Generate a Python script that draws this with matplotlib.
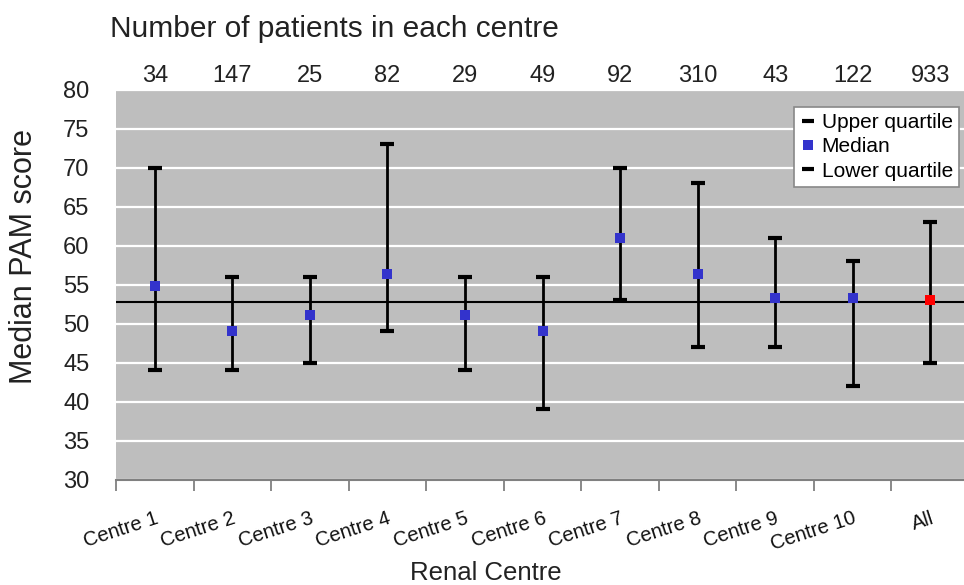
import matplotlib
matplotlib.use("Agg")
import matplotlib.pyplot as plt
from matplotlib.lines import Line2D
import numpy as np

plt.rcParams['font.family'] = ['Liberation Sans', 'DejaVu Sans']

categories = ['Centre 1', 'Centre 2', 'Centre 3', 'Centre 4', 'Centre 5', 'Centre 6',
              'Centre 7', 'Centre 8', 'Centre 9', 'Centre 10', 'All']
patients = [34, 147, 25, 82, 29, 49, 92, 310, 43, 122, 933]
upper_q = [70, 56, 56, 73, 56, 56, 70, 68, 61, 58, 63]
median = [54.8, 49.1, 51.1, 56.3, 51.1, 49.1, 60.9, 56.3, 53.3, 53.3, 53.0]
lower_q = [44, 44, 45, 49, 44, 39, 53, 47, 47, 42, 45]
overall_line = 52.7

W, H = 964, 585
fig = plt.figure(figsize=(W / 100, H / 100), dpi=100)
ax_l, ax_r, ax_t, ax_b = 116, 969, 89.5, 479.5
ax = fig.add_axes([ax_l / W, 1 - ax_b / H, (ax_r - ax_l) / W, (ax_b - ax_t) / H])

x = np.arange(len(categories))
med = np.array(median)
up = np.array(upper_q)
lo = np.array(lower_q)

ax.set_facecolor('#BEBEBE')
ax.set_xlim(-0.5, len(categories) - 0.5)
ax.set_ylim(30, 80)
ax.set_yticks(np.arange(30, 81, 5))
ax.yaxis.grid(True, color='white', lw=1.6)
ax.set_axisbelow(True)

ax.axhline(overall_line, color='black', lw=1.5, zorder=2)

ax.errorbar(x, med, yerr=[med - lo, up - med], fmt='none', ecolor='black',
            elinewidth=2, capsize=5, capthick=3, zorder=3)
ax.plot(x[:-1], med[:-1], 's', color='#3333CC', ms=7, zorder=4, mew=0)
ax.plot(x[-1:], med[-1:], 's', color='#FF0000', ms=7, zorder=4, mew=0)

for s in ['top', 'right', 'left']:
    ax.spines[s].set_visible(False)
ax.spines['bottom'].set_color('#808080')
ax.spines['bottom'].set_linewidth(1.5)

ax.set_xticks(x)
ax.set_xticklabels(categories, rotation=18, ha='right', va='top',
                   rotation_mode='anchor', fontsize=14.5, color='#111111')
ax.set_xticks(np.arange(-0.5, len(categories), 1), minor=True)
ax.tick_params(axis='x', which='major', length=0, pad=21)
ax.tick_params(axis='x', which='minor', length=8, width=1.3, color='#808080')
ax.tick_params(axis='y', length=0, pad=19, labelsize=17, labelcolor='#222222')

sec = ax.secondary_xaxis('top')
sec.set_xticks(x)
sec.set_xticklabels([str(p) for p in patients], fontsize=17, color='#222222')
sec.tick_params(length=0, pad=1.5)
sec.spines['top'].set_visible(False)

fig.text(110 / W, 1 - 37 / H, 'Number of patients in each centre', fontsize=21.5,
         va='baseline', ha='left', color='#222222')
fig.text(24 / W, 1 - 256 / H, 'Median PAM score', fontsize=22, rotation=90,
         va='center', ha='center', color='#222222')
fig.text(486 / W, 1 - 580 / H, 'Renal Centre', fontsize=18.5, va='baseline',
         ha='center', color='#222222')

handles = [
    Line2D([], [], color='black', marker='_', ls='none', ms=8, mew=3),
    Line2D([], [], color='#3333CC', marker='s', ls='none', ms=7, mew=0),
    Line2D([], [], color='black', marker='_', ls='none', ms=8, mew=3),
]
leg = ax.legend(handles, ['Upper quartile', 'Median', 'Lower quartile'],
                loc='upper right', bbox_to_anchor=(959 / W, 1 - 107 / H),
                bbox_transform=fig.transFigure, borderaxespad=0,
                fancybox=False, framealpha=1, edgecolor='#888888',
                fontsize=15, handlelength=0.7, handletextpad=0.3,
                labelspacing=0.25, borderpad=0.3)
leg.get_frame().set_linewidth(1.2)

fig.savefig('out.png', dpi=100)
